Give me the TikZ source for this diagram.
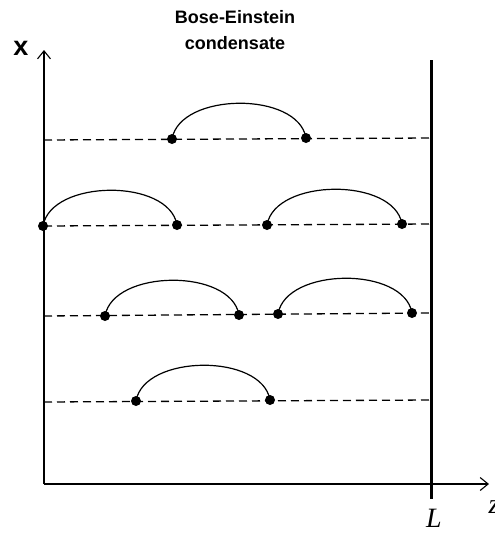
\documentclass[tikz,border=0pt]{standalone}
\usepackage{fontspec}
\setmainfont{Liberation Serif}
\newfontfamily\arialfont{Liberation Sans}
\usetikzlibrary{arrows.meta}
\begin{document}
\begin{tikzpicture}[x=1pt,y=-1pt,
  dot/.style={circle,fill=black,inner sep=0pt,minimum size=10pt},
  axisline/.style={line width=2.5pt},
  wall/.style={line width=3pt},
  level/.style={dash pattern=on 8pt off 5pt,line width=1.3pt},
  pair/.style={line width=1.2pt},
  tip/.style={-{Straight Barb[length=8pt,width=13pt,line width=1.1pt]}},
  title/.style={font=\arialfont\bfseries\fontsize{18}{26}\selectfont,align=center},
  serif/.style={font=\itshape\fontsize{28}{28}\selectfont,inner sep=0pt}
]
\useasboundingbox (0,0) rectangle (495,533);
% axes
\coordinate (O) at (44,484);
\coordinate (ytop) at (44,50);
\coordinate (xend) at (489,484);
\coordinate (wtop) at (431,60);
\coordinate (wbot) at (431,499);
\draw[axisline] (O) -- (44,57);
\draw[tip,line width=1.1pt] (44,58) -- (ytop);
\draw[line width=1.3pt,tip] (O) -- (xend);
\draw[wall] (wtop) -- (wbot);
% level lines
\coordinate (a1) at (44,140); \coordinate (b1) at (431,138);
\coordinate (a2) at (44,226); \coordinate (b2) at (431,224);
\coordinate (a3) at (44,316); \coordinate (b3) at (431,313);
\coordinate (a4) at (44,402); \coordinate (b4) at (431,400);
\foreach \i in {1,2,3,4} \draw[level] (a\i) -- (b\i);
% dots
\node[dot] (p11) at (172,139) {};
\node[dot] (p12) at (306,138) {};
\node[dot] (p21) at (43,226) {};
\node[dot] (p22) at (177,225) {};
\node[dot] (p23) at (267,225) {};
\node[dot] (p24) at (402,224) {};
\node[dot] (p31) at (105,316) {};
\node[dot] (p32) at (239,315) {};
\node[dot] (p33) at (278,314) {};
\node[dot] (p34) at (412,313) {};
\node[dot] (p41) at (136,401) {};
\node[dot] (p42) at (270,400) {};
% arcs
\foreach \a/\b in {p11/p12,p21/p22,p23/p24,p31/p32,p33/p34,p41/p42}
  \draw[pair] (\a.center) .. controls +(8,-47) and +(-8,-47) .. (\b.center);
% labels
\node[title] (ttl) at (235,30) {Bose-Einstein\\condensate};
\node[font=\arialfont\bfseries\fontsize{27}{27}\selectfont,inner sep=0pt] (xl) at (21,48) {x};
\node[serif] (zl) at (494,507) {z};
\node[serif] (Ll) at (434,518) {L};
\end{tikzpicture}
\end{document}
